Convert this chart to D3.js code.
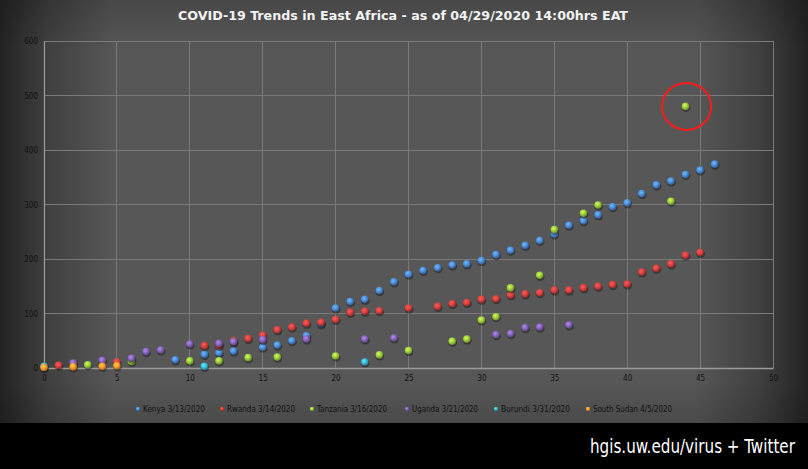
<!DOCTYPE html>
<html>
<head>
<meta charset="utf-8">
<script src="https://cdn.jsdelivr.net/npm/d3@7"></script>
<style>
  body { margin: 0; background: #000; }
  svg { display: block; }
</style>
</head>
<body>
<div id="chart"></div>
<script>
// days since first case -> confirmed cases
const kenya = [[9,15],[11,25],[12,28],[13,31],[15,38],[16,42],[17,50],[18,59],[19,81],[20,110],
  [21,122],[22,126],[23,142],[24,158],[25,172],[26,179],[27,184],[28,189],[29,191],[30,197],
  [31,208],[32,216],[33,225],[34,234],[35,246],[36,262],[37,270],[38,281],[39,296],[40,303],
  [41,320],[42,336],[43,343],[44,355],[45,363],[46,374]]
const rwanda = [[1,5],[5,11],[11,41],[12,41],[13,50],[14,54],[15,60],[16,70],[17,75],[18,82],
  [19,84],[20,89],[21,102],[22,104],[23,105],[25,110],[27,113],[28,118],[29,120],[30,126],
  [31,127],[32,134],[33,136],[34,138],[35,143],[36,143],[37,147],[38,150],[39,153],[40,154],
  [41,176],[42,183],[43,191],[44,207],[45,212]]
const tanzania = [[3,6],[6,12],[10,13],[12,13],[14,19],[16,20],[20,22],[23,24],[25,32],[28,49],
  [29,53],[30,88],[31,94],[32,147],[34,170],[35,254],[37,284],[38,299],[43,306],[44,480]]
const uganda = [[2,9],[4,14],[6,18],[7,30],[8,33],[10,44],[12,45],[13,48],[15,52],[18,53],
  [22,53],[24,55],[31,61],[32,63],[33,74],[34,75],[36,79]]
const burundi = [[0,3],[11,3],[22,11]]
const southSudan = [[0,1],[2,2],[4,3],[5,4]]

const seriesNames = ['Kenya 3/13/2020', 'Rwanda 3/14/2020', 'Tanzania 3/16/2020',
  'Uganda 3/21/2020', 'Burundi  3/31/2020', 'South Sudan 4/5/2020']
const seriesData = [kenya, rwanda, tanzania, uganda, burundi, southSudan]
const seriesColors = ['#4d8ad6', '#d9413f', '#9bcb3d', '#8463b5', '#3db4d4', '#f5992e']

const xTicks = [0, 5, 10, 15, 20, 25, 30, 35, 40, 45, 50]
const yTicks = [0, 100, 200, 300, 400, 500, 600]

const highlight = [44, 480]   // the circled Tanzania point

const W = 808, H = 469
const svg = d3.select('#chart').append('svg').attr('width', W).attr('height', H)
const defs = svg.append('defs')

// background vignette
let bg = defs.append('linearGradient').attr('id', 'bgx')
bg.selectAll('stop').data([[0, '#232323'], [0.06, '#404040'], [0.14, '#575757'],
  [0.86, '#575757'], [0.94, '#404040'], [1, '#232323']])
  .enter().append('stop').attr('offset', d => d[0]).attr('stop-color', d => d[1])

let topShade = defs.append('linearGradient').attr('id', 'bgtop')
  .attr('x1', 0).attr('x2', 0).attr('y1', 0).attr('y2', 1)
topShade.append('stop').attr('offset', 0).attr('stop-color', '#000').attr('stop-opacity', 0.18)
topShade.append('stop').attr('offset', 0.12).attr('stop-color', '#000').attr('stop-opacity', 0)
topShade.append('stop').attr('offset', 0.9).attr('stop-color', '#000').attr('stop-opacity', 0)
topShade.append('stop').attr('offset', 1).attr('stop-color', '#000').attr('stop-opacity', 0.15)

svg.append('rect').attr('width', W).attr('height', 423).attr('fill', 'url(#bgx)')
svg.append('rect').attr('width', W).attr('height', 423).attr('fill', 'url(#bgtop)')
svg.append('rect').attr('y', 423).attr('width', W).attr('height', H - 423).attr('fill', '#000')

// sphere gradients
seriesColors.forEach((c, i) => {
  let g = defs.append('radialGradient').attr('id', 'ball' + i)
    .attr('cx', '40%').attr('cy', '35%').attr('r', '65%')
  g.append('stop').attr('offset', 0).attr('stop-color', d3.color(c).brighter(0.9))
  g.append('stop').attr('offset', 0.55).attr('stop-color', c)
  g.append('stop').attr('offset', 1).attr('stop-color', d3.color(c).darker(1.2))
})

const x = d3.scaleLinear().domain([0, 50]).range([44, 773])
const y = d3.scaleLinear().domain([0, 600]).range([368, 41])

const font = '"DejaVu Sans Condensed", "Liberation Sans", sans-serif'

// gridlines
let grid = svg.append('g')
grid.selectAll('line.v').data(xTicks.slice(1)).enter().append('line')
  .attr('x1', d => x(d)).attr('x2', d => x(d)).attr('y1', y(600)).attr('y2', y(0))
  .attr('stroke', '#7a7a7a').attr('stroke-width', 1).attr('shape-rendering', 'crispEdges')
grid.selectAll('line.h').data(yTicks.slice(1)).enter().append('line')
  .attr('x1', x(0)).attr('x2', x(50)).attr('y1', d => y(d)).attr('y2', d => y(d))
  .attr('stroke', '#7a7a7a').attr('stroke-width', 1).attr('shape-rendering', 'crispEdges')

// axes
let xAxis = svg.append('g').attr('transform', 'translate(0,' + y(0) + ')')
  .call(d3.axisBottom(x).tickValues(xTicks).tickSize(0).tickPadding(7))
let yAxis = svg.append('g').attr('transform', 'translate(' + x(0) + ',0)')
  .call(d3.axisLeft(y).tickValues(yTicks).tickSize(0).tickPadding(6))
;[xAxis, yAxis].forEach(a => {
  a.select('.domain').attr('stroke', '#9a9a9a').attr('stroke-width', 1.3)
  a.selectAll('text').attr('fill', '#111').style('font-family', font).style('font-size', '8px')
})

// points
seriesData.forEach((data, i) => {
  let g = svg.append('g')
  g.selectAll('ellipse.shadow').data(data).enter().append('ellipse')
    .attr('cx', d => x(d[0]) + 0.5).attr('cy', d => y(d[1]) + 1.5)
    .attr('rx', 4.4).attr('ry', 4).attr('fill', '#000').attr('opacity', 0.35)
  g.selectAll('circle').data(data).enter().append('circle')
    .attr('cx', d => x(d[0])).attr('cy', d => y(d[1])).attr('r', 3.8)
    .attr('fill', 'url(#ball' + i + ')')
})

// highlight ring
svg.append('ellipse').attr('cx', x(highlight[0]) + 1).attr('cy', y(highlight[1]))
  .attr('rx', 24.5).attr('ry', 23.5).attr('fill', 'none')
  .attr('stroke', '#ff1a1a').attr('stroke-width', 2)

// title
svg.append('text').attr('x', 403).attr('y', 20).attr('text-anchor', 'middle')
  .attr('fill', '#f2f2f2').style('font-family', font).style('font-size', '13px')
  .style('font-weight', 'bold').attr('textLength', 450).attr('lengthAdjust', 'spacingAndGlyphs')
  .text('COVID-19 Trends in East Africa - as of 04/29/2020 14:00hrs EAT')

// legend
const legendX = [138, 222, 312, 407, 496, 588]
const legendW = [62, 68, 70, 66, 69, 79]
let legend = svg.append('g')
seriesNames.forEach((name, i) => {
  let lg = legend.append('g').attr('transform', 'translate(' + legendX[i] + ',409)')
  lg.append('rect').attr('x', -2).attr('y', -2).attr('width', 4).attr('height', 4).attr('rx', 1)
    .attr('fill', 'url(#ball' + i + ')')
  lg.append('text').attr('x', 5).attr('y', 3).attr('fill', '#111')
    .style('font-family', font).style('font-size', '8px')
    .attr('textLength', legendW[i]).attr('lengthAdjust', 'spacingAndGlyphs')
    .text(name)
})

// footer
svg.append('text').attr('x', 590).attr('y', 453)
  .attr('fill', '#fff').style('font-family', font).style('font-size', '19px')
  .text('hgis.uw.edu/virus + Twitter')
  .each(function () {
    // squeeze to the reference width without relying on textLength
    let w = this.getComputedTextLength()
    d3.select(this).attr('transform', 'translate(590,0) scale(' + (205 / w) + ',1) translate(-590,0)')
  })
</script>
</body>
</html>
